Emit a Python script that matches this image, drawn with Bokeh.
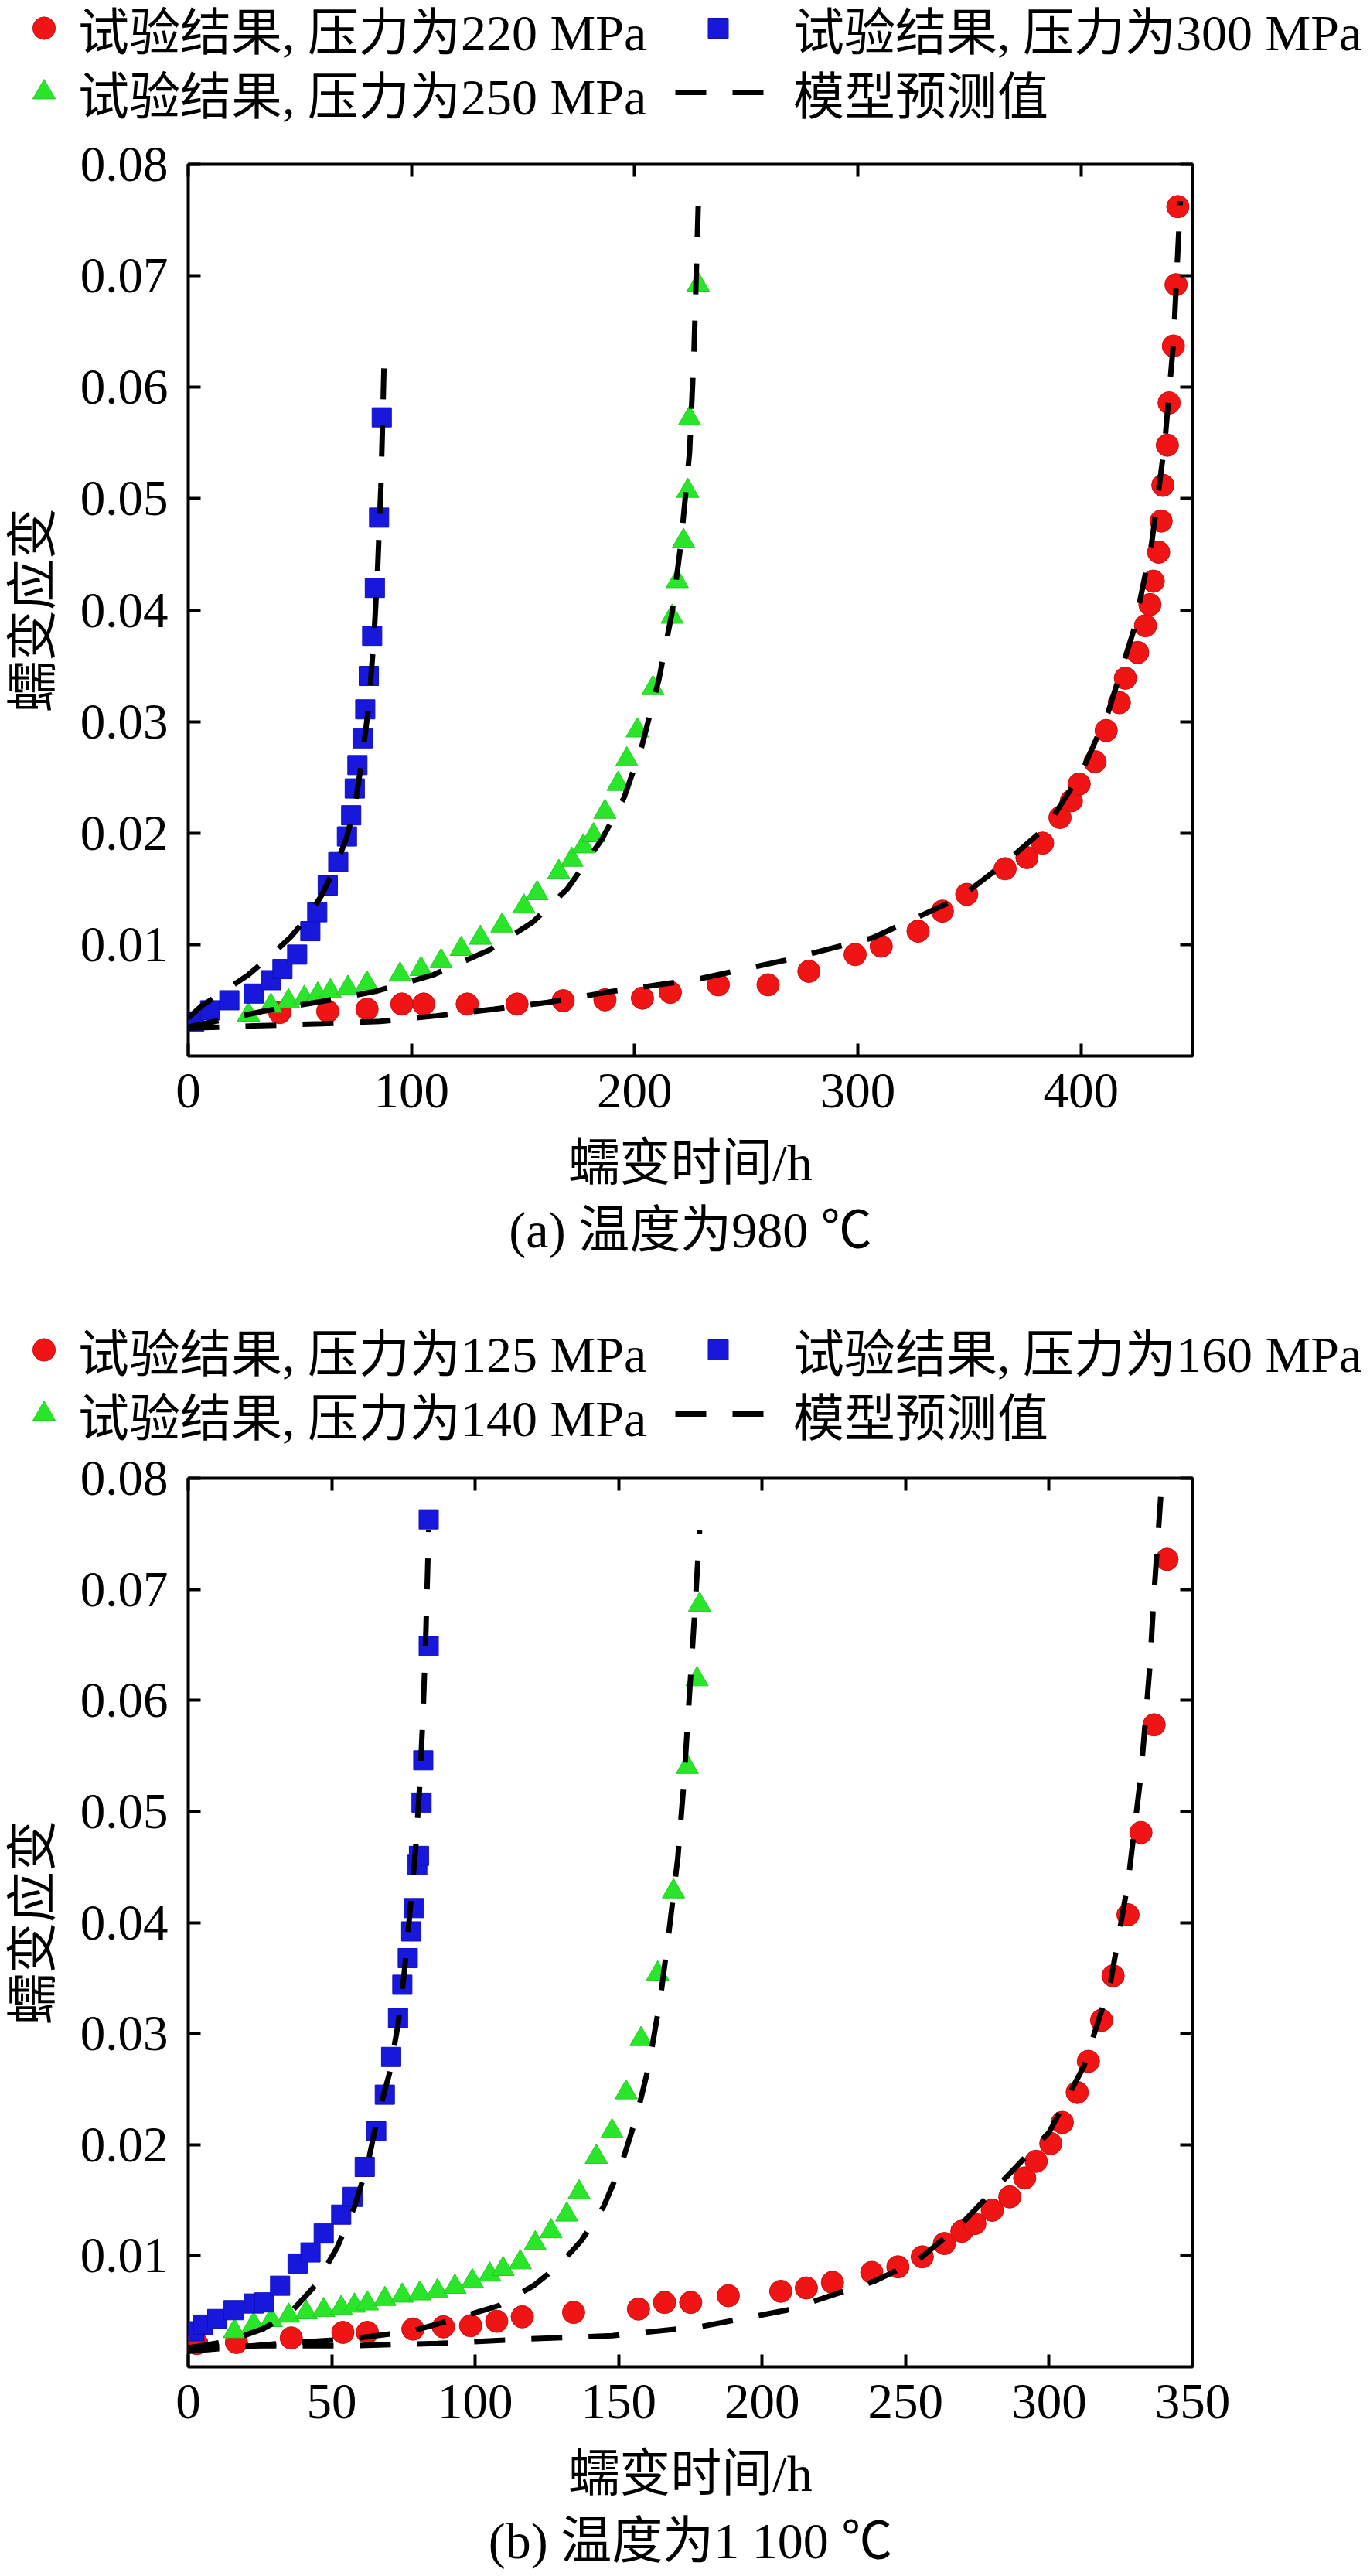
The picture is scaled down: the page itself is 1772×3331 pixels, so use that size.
from bokeh.plotting import figure
from bokeh.models import (Range1d, LinearAxis, FixedTicker, Legend, LegendItem, Title,
                          NumeralTickFormatter, CustomJSTickFormatter)
from bokeh.layouts import column
from bokeh.embed import file_html
from bokeh.resources import INLINE

# ---------------- data: panel (a) 980 C ----------------
a_t_220 = [41.0, 62.5, 80.1, 95.7, 105.5, 125.0, 147.3, 168.0, 186.7, 203.5, 216.0, 237.5, 259.8,
           278.1, 298.8, 310.5, 327.0, 337.9, 348.8, 366.0, 375.8, 382.8, 390.6, 395.7, 399.2,
           406.3, 411.3, 417.2, 419.9, 425.4, 428.9, 430.9, 432.4, 434.8, 435.9, 436.7, 438.7,
           439.5, 441.4, 442.6, 443.4]
a_e_220 = [0.0039, 0.0040, 0.0042, 0.00466, 0.00466, 0.00466, 0.00466, 0.00496, 0.00504, 0.00519,
           0.00571, 0.00639, 0.00639, 0.0076, 0.0091, 0.00985, 0.0112, 0.0130, 0.0145, 0.0168,
           0.0178, 0.0191, 0.0214, 0.0229, 0.0244, 0.0264, 0.0292, 0.0317, 0.0339, 0.0362,
           0.0386, 0.0405, 0.0426, 0.0452, 0.0480, 0.0512, 0.0548, 0.0586, 0.0637, 0.0692, 0.0762]
a_mt_220 = [0, 30, 60, 86, 111, 137, 161, 190, 228.5, 267.6, 306.6, 345.7, 365.2, 384.8, 400.4,
            412.1, 423.8, 431.6, 437.5, 441.4, 443.4, 444.5]
a_me_220 = [0.0025, 0.0027, 0.0029, 0.0031, 0.0036, 0.0042, 0.0048, 0.0058, 0.0069, 0.0086, 0.0106,
            0.0142, 0.0172, 0.0206, 0.0255, 0.0308, 0.0383, 0.0459, 0.0549, 0.0639, 0.0722, 0.0767]

a_t_250 = [27, 37, 44.9, 52, 58, 63.7, 71.5, 80.1, 94.9, 104.3, 113.3, 122.3, 130.9, 140.6, 150.4,
           156.3, 166.0, 171.9, 177.0, 181.6, 186.7, 192.6, 196.5, 201.2, 208.2, 216.8, 219.1,
           221.9, 223.8, 224.6, 228.5]
a_e_250 = [0.0037, 0.0045, 0.0049, 0.0052, 0.0055, 0.0058, 0.0061, 0.0065, 0.0073, 0.0078, 0.0085,
           0.0096, 0.0106, 0.0117, 0.0134, 0.0146, 0.0165, 0.0176, 0.0188, 0.0198, 0.0219, 0.0244,
           0.0266, 0.0292, 0.0330, 0.0394, 0.0426, 0.0462, 0.0507, 0.0572, 0.0692]
a_mt_250 = [0, 33.2, 60, 84, 110, 134.8, 154.3, 169.9, 185.5, 195.3, 203.1, 210.9, 216.8, 220.7,
            224.6, 226.6, 228.5]
a_me_250 = [0.0026, 0.0040, 0.0049, 0.0058, 0.0073, 0.0095, 0.0120, 0.0150, 0.0195, 0.0232, 0.0277,
            0.0338, 0.0398, 0.0459, 0.0541, 0.0631, 0.0763]

a_t_300 = [2.7, 9.8, 18.4, 29.3, 37.1, 42.2, 48.8, 54.7, 57.8, 62.5, 67.2, 71.1, 73.0, 74.6, 75.8,
           78.1, 79.3, 80.9, 82.4, 83.6, 85.5, 86.7]
a_e_300 = [0.0031, 0.0041, 0.0050, 0.0056, 0.0068, 0.0078, 0.0091, 0.0112, 0.0129, 0.0153, 0.0174,
           0.0197, 0.0216, 0.0240, 0.0261, 0.0285, 0.0311, 0.0341, 0.0377, 0.0420, 0.0483, 0.0573]
a_mt_300 = [0, 6, 16, 27, 37, 46, 54, 60, 66, 71, 75, 78.1, 80.9, 83.2, 84.8, 86.3, 87.1, 87.9]
a_me_300 = [0.0034, 0.0045, 0.0058, 0.0073, 0.0090, 0.0107, 0.0126, 0.0145, 0.0170, 0.0196, 0.0228,
            0.0270, 0.0315, 0.0375, 0.0435, 0.0510, 0.0570, 0.0635]

# ---------------- data: panel (b) 1 100 C ----------------
b_t_125 = [3.0, 16.8, 35.9, 53.9, 62.4, 78.3, 88.9, 98.4, 107.5, 116.4, 134.3, 156.9, 166.0, 175.1,
           188.2, 206.5, 215.4, 224.5, 238.2, 247.3, 255.8, 263.5, 269.6, 274.1, 280.2, 286.3,
           291.5, 295.5, 300.6, 304.6, 309.8, 313.7, 318.3, 322.3, 327.5, 332.0, 336.6, 341.1]
b_e_125 = [0.0021, 0.0022, 0.0026, 0.0031, 0.0031, 0.0034, 0.0036, 0.0037, 0.0041, 0.0045, 0.0049,
           0.0052, 0.0058, 0.0058, 0.0064, 0.0068, 0.0071, 0.0076, 0.0085, 0.0090, 0.0099, 0.0111,
           0.0122, 0.0129, 0.0141, 0.0153, 0.0170, 0.0185, 0.0201, 0.0220, 0.0247, 0.0275, 0.0312,
           0.0352, 0.0407, 0.0481, 0.0578, 0.0727]
b_mt_125 = [0, 25.9, 56.3, 86.8, 117.3, 147.7, 178.2, 208.6, 239.1, 254.3, 269.6, 284.8, 300.0,
            312.2, 321.4, 327.5, 332.0, 335.1, 336.6, 339.0]
b_me_125 = [0.0017, 0.0019, 0.0019, 0.0021, 0.0025, 0.0028, 0.0036, 0.0051, 0.0077, 0.0096, 0.0129,
            0.0170, 0.0211, 0.0271, 0.0346, 0.0436, 0.0533, 0.0630, 0.0697, 0.0787]

b_t_140 = [16.1, 22.8, 28.9, 35.0, 41.1, 47.2, 53.3, 57.9, 62.4, 68.5, 74.6, 80.7, 86.8, 92.9, 99.0,
           105.1, 109.7, 115.7, 120.9, 126.4, 131.9, 136.2, 142.2, 147.7, 152.6, 157.8, 163.6,
           169.1, 173.9, 177.3, 178.2]
b_e_140 = [0.0032, 0.0038, 0.0042, 0.0046, 0.0049, 0.0051, 0.0053, 0.0055, 0.0057, 0.0061, 0.0064,
           0.0066, 0.0068, 0.0072, 0.0077, 0.0083, 0.0088, 0.0094, 0.0111, 0.0122, 0.0137, 0.0157,
           0.0189, 0.0212, 0.0247, 0.0295, 0.0354, 0.0428, 0.0540, 0.0619, 0.0686]
b_mt_140 = [0, 13.7, 32.0, 56.3, 77.7, 92.9, 108.1, 120.3, 129.5, 137.1, 144.7, 150.8, 156.3, 160.5,
            164.5, 167.5, 170.6, 172.7, 175.1, 176.6, 178.2]
b_me_140 = [0.0014, 0.0017, 0.0021, 0.0025, 0.0032, 0.0043, 0.0055, 0.0073, 0.0092, 0.0114, 0.0144,
            0.0181, 0.0226, 0.0271, 0.0331, 0.0391, 0.0458, 0.0525, 0.0623, 0.0683, 0.0753]

b_t_160 = [2.1, 5.2, 10.1, 15.8, 22.8, 26.5, 32.0, 38.1, 42.6, 47.2, 53.3, 57.3, 61.5, 65.5, 68.5,
           70.7, 73.1, 74.6, 76.5, 77.7, 78.6, 79.8, 80.4, 81.3, 81.9, 83.8, 83.8]
b_e_160 = [0.0032, 0.0038, 0.0043, 0.0051, 0.0057, 0.0058, 0.0073, 0.0093, 0.0103, 0.0120, 0.0137,
           0.0153, 0.0180, 0.0212, 0.0245, 0.0279, 0.0314, 0.0344, 0.0368, 0.0392, 0.0413, 0.0452,
           0.0460, 0.0508, 0.0546, 0.0649, 0.0763]
b_mt_160 = [0, 13.7, 25.9, 35.0, 44.2, 51.8, 57.9, 62.5, 66.1, 70.1, 73.1, 75.2, 77.1, 79.2, 80.7,
            81.9, 82.8, 83.8]
b_me_160 = [0.0017, 0.0023, 0.0034, 0.0047, 0.0073, 0.0107, 0.0144, 0.0182, 0.0226, 0.0264, 0.0308,
            0.0353, 0.0405, 0.0465, 0.0525, 0.0593, 0.0661, 0.0753]

# ---------------- texts / ticks ----------------
y_ticks = [0.01, 0.02, 0.03, 0.04, 0.05, 0.06, 0.07, 0.08]
a_x_ticks = [0, 100, 200, 300, 400]
b_x_ticks = [0, 50, 100, 150, 200, 250, 300, 350]
a_labels = ["试验结果, 压力为220 MPa", "试验结果, 压力为250 MPa", "试验结果, 压力为300 MPa", "模型预测值"]
b_labels = ["试验结果, 压力为125 MPa", "试验结果, 压力为140 MPa", "试验结果, 压力为160 MPa", "模型预测值"]
x_title = "蠕变时间/h"
y_title = "蠕变应变"
a_caption = "(a) 温度为980 ℃"
b_caption = "(b) 温度为1 100 ℃"

FONT = "Liberation Serif, Noto Sans CJK SC"
RED, GREEN, BLUE = "#f01414", "#2ae62a", "#1818dc"
W = 1772
GH = 100  # legend item height

MARK = dict(
    r=dict(marker="circle", size=29, fill_color=RED, line_color="#c81010", line_width=1),
    g=dict(marker="triangle", size=29, fill_color=GREEN, line_color="#22cc22", line_width=1),
    b=dict(marker="square", size=25, fill_color=BLUE, line_color="#1010b8", line_width=1),
)
DASH = dict(line_color="black", line_width=7, line_dash="40 34")


def make_legend_fig(labels, h, row1, row2):
    f = figure(width=W, height=h, output_backend="svg", toolbar_location=None,
               x_range=Range1d(0, 1), y_range=Range1d(0, 1), min_border=0,
               x_axis_location=None, y_axis_location=None)
    f.frame_align = False
    f.grid.visible = False
    f.outline_line_color = None
    # off-range proxies carrying the same styles as the plotted series
    rc = f.scatter([-5], [-5], **MARK["r"])
    rg = f.scatter([-5], [-5], **MARK["g"])
    rb = f.scatter([-5], [-5], **MARK["b"])
    rl = f.line([-5, -4], [-5, -5], **DASH)

    def leg(label, rend, x, row, gw, standoff):
        lg = Legend(items=[LegendItem(label=label, renderers=[rend])], location=(x, h - row - GH / 2),
                    orientation="vertical", glyph_width=gw, glyph_height=GH, spacing=0,
                    padding=0, margin=0, label_standoff=standoff, label_text_font=FONT,
                    label_text_font_size="66px", label_text_color="black",
                    border_line_color=None, background_fill_alpha=0, label_height=20)
        f.add_layout(lg, "center")

    leg(labels[0], rc, 20, row1, 73, 8)
    leg(labels[1], rg, 20, row2, 73, 8)
    leg(labels[2], rb, 896, row1, 65, 65)
    leg(labels[3], rl, 873, row2, 115, 38)
    return f


def make_panel(series, xmax, xticks, caption, fig_h, top_b, bot_b):
    p = figure(width=W, height=fig_h, output_backend="svg", toolbar_location=None,
               x_range=Range1d(0, xmax), y_range=Range1d(0, 0.08),
               min_border_left=243, min_border_right=230,
               min_border_top=top_b, min_border_bottom=bot_b)
    p.xgrid.visible = False
    p.ygrid.visible = False
    p.outline_line_color = "black"
    p.outline_line_width = 4
    p.background_fill_color = "white"
    p.border_fill_color = "white"

    (t_r, e_r, mt_r, me_r), (t_g, e_g, mt_g, me_g), (t_b, e_b, mt_b, me_b) = series

    p.scatter(t_r, e_r, **MARK["r"])
    p.scatter(t_g, e_g, **MARK["g"])
    p.scatter(t_b, e_b, **MARK["b"])
    for mt, me in ((mt_r, me_r), (mt_g, me_g), (mt_b, me_b)):
        p.line(mt, me, **DASH)

    def style_axis(ax, show_labels):
        ax.axis_line_color = None
        ax.major_tick_in = 16
        ax.major_tick_out = 0
        ax.major_tick_line_width = 4
        ax.major_tick_line_color = "black"
        ax.minor_tick_line_color = None
        ax.major_label_text_font = FONT
        ax.major_label_text_font_size = "65px"
        ax.major_label_text_color = "black"
        ax.axis_label_text_font = FONT
        ax.axis_label_text_font_size = "66px"
        ax.axis_label_text_font_style = "normal"
        ax.axis_label_text_color = "black"
        if not show_labels:
            ax.formatter = CustomJSTickFormatter(code="return ''")
            ax.major_label_text_font_size = "1px"
            ax.major_label_standoff = 0

    xa = p.xaxis[0]
    xa.ticker = FixedTicker(ticks=xticks, minor_ticks=[])
    style_axis(xa, True)
    xa.major_label_standoff = 23
    xa.axis_label = x_title
    xa.axis_label_standoff = 32

    ya = p.yaxis[0]
    ya.ticker = FixedTicker(ticks=y_ticks, minor_ticks=[])
    ya.formatter = NumeralTickFormatter(format="0.00")
    style_axis(ya, True)
    ya.major_label_standoff = 26
    ya.axis_label = y_title
    ya.axis_label_standoff = 22

    top = LinearAxis(ticker=FixedTicker(ticks=xticks, minor_ticks=[]))
    style_axis(top, False)
    p.add_layout(top, "above")
    right = LinearAxis(ticker=FixedTicker(ticks=y_ticks, minor_ticks=[]))
    style_axis(right, False)
    p.add_layout(right, "right")

    p.add_layout(Title(text=caption, align="center", text_font=FONT, text_font_size="66px",
                       text_font_style="normal", text_color="black", standoff=18), "below")
    return p


leg_a = make_legend_fig(a_labels, 170, 36, 119)
pa = make_panel(((a_t_220, a_e_220, a_mt_220, a_me_220),
                 (a_t_250, a_e_250, a_mt_250, a_me_250),
                 (a_t_300, a_e_300, a_mt_300, a_me_300)),
                450, a_x_ticks, a_caption, 1540, 42, 345)
leg_b = make_legend_fig(b_labels, 165, 35, 118)
pb = make_panel(((b_t_125, b_e_125, b_mt_125, b_me_125),
                 (b_t_140, b_e_140, b_mt_140, b_me_140),
                 (b_t_160, b_e_160, b_mt_160, b_me_160)),
                350, b_x_ticks, b_caption, 1456, 36, 271)

layout = column(leg_a, pa, leg_b, pb, spacing=0)
open("out.html", "w").write(file_html(layout, INLINE))
